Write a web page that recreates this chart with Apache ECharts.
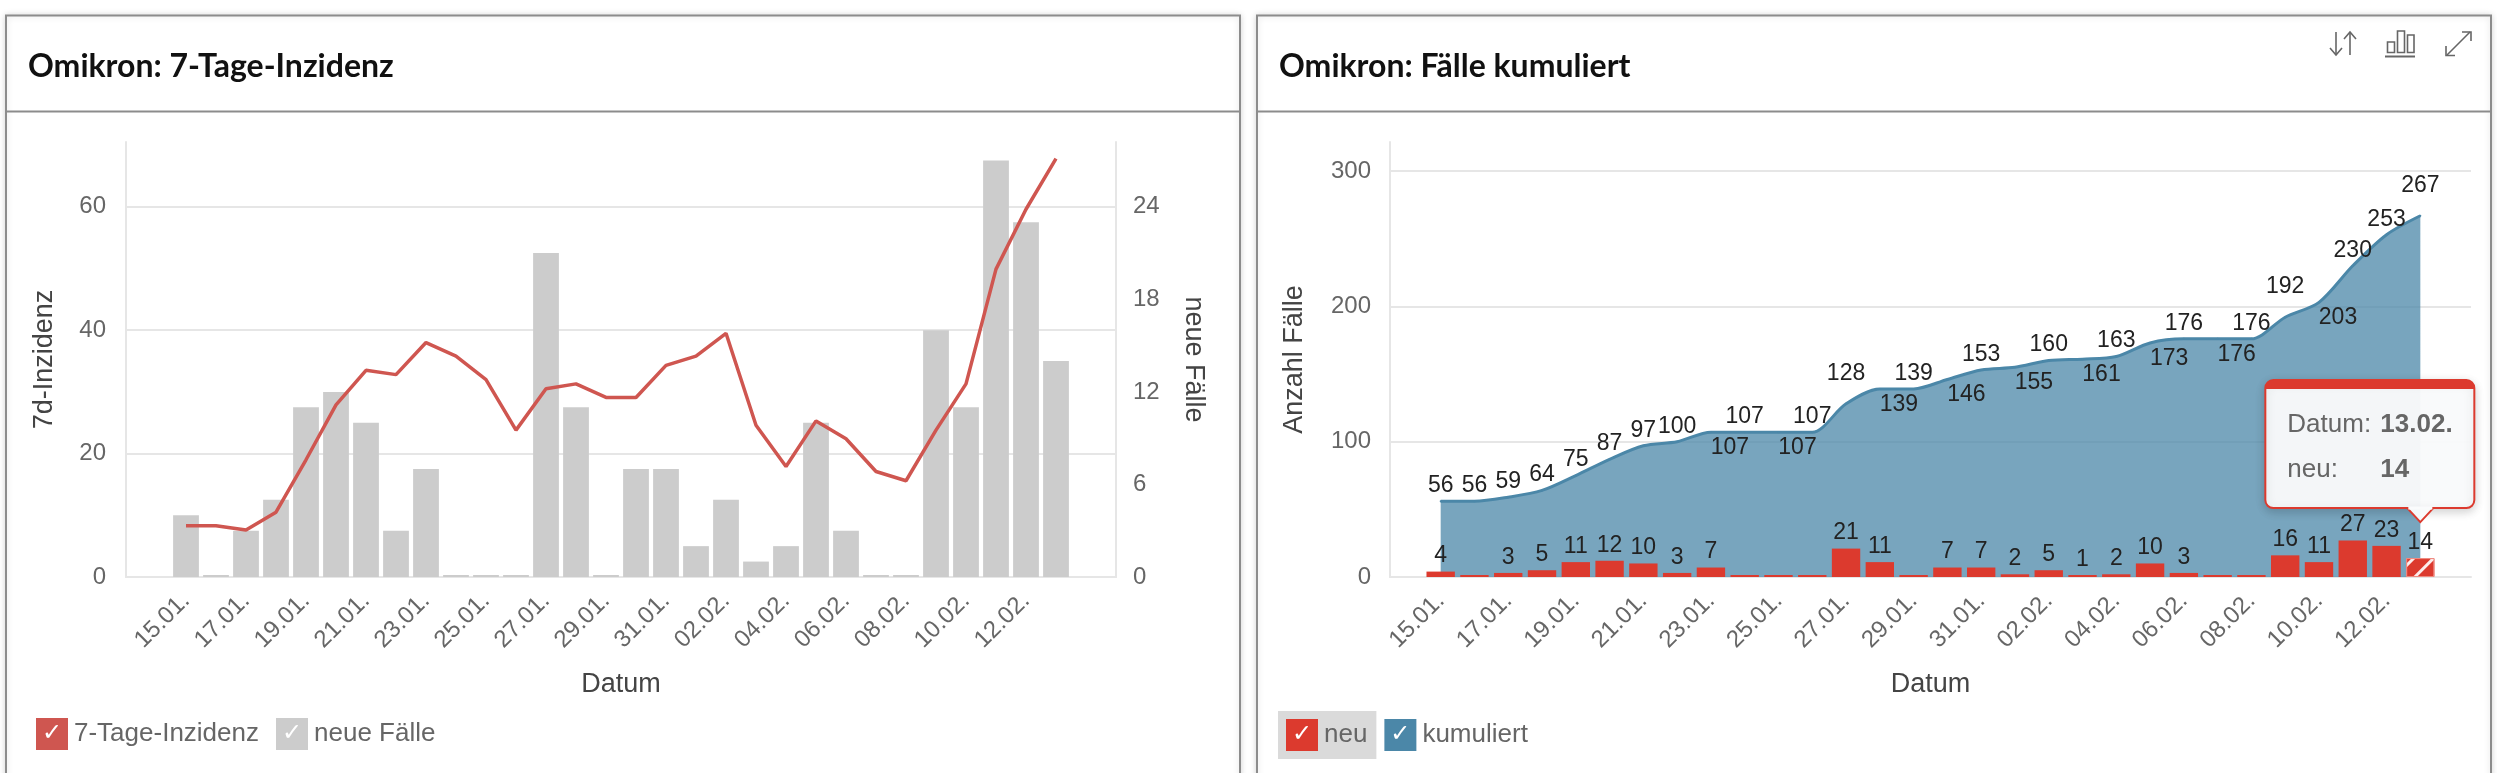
<!DOCTYPE html>
<html>
<head>
<meta charset="utf-8">
<script src="https://cdn.jsdelivr.net/npm/echarts@6/dist/echarts.min.js"></script>
<style>
html,body{margin:0;padding:0;background:#fff;}
#c{width:2497px;height:773px;}
</style>
</head>
<body>
<div id="c"></div>
<script>
// ---------- data ----------
const dates = ['15.01.','16.01.','17.01.','18.01.','19.01.','20.01.','21.01.','22.01.','23.01.','24.01.',
  '25.01.','26.01.','27.01.','28.01.','29.01.','30.01.','31.01.','01.02.','02.02.','03.02.',
  '04.02.','05.02.','06.02.','07.02.','08.02.','09.02.','10.02.','11.02.','12.02.','13.02.'];
const neueFaelle = [4,0,3,5,11,12,10,3,7,0,0,0,21,11,0,7,7,2,5,1,2,10,3,0,0,16,11,27,23,14];
const inzidenz7d = [8.3,8.3,7.6,10.5,19.0,27.9,33.5,32.8,38.0,35.8,32.0,23.8,30.5,31.3,29.1,29.1,34.3,35.8,39.5,24.6,17.9,25.3,22.4,17.1,15.6,23.8,31.3,49.9,59.6,67.8];
const kumuliert = [56,56,59,64,75,87,97,100,107,107,107,107,128,139,139,146,153,155,160,161,163,173,176,176,176,192,203,230,253,267];
const inzidenzTicks = [0,20,40,60];
const faelleTicks = [0,6,12,18,24];
const anzahlTicks = [0,100,200,300];

// ---------- helpers ----------
const FONT = 'Liberation Sans';
const padL = 2, padR = 1;
function pad(arr, before, after, fill) {
  return Array(before).fill(fill).concat(arr, Array(after).fill(fill));
}
function blanks(n, start) { const a = []; for (let i = 0; i < n; i++) a.push(' '.repeat(start + i)); return a; }
const catsL = blanks(padL, 1).concat(dates, blanks(padL, 10));
const catsR = blanks(padR, 1).concat(dates, blanks(padR, 10));
function labelInterval(p) { return (i) => i >= p && i < p + dates.length && (i - p) % 2 === 0; }

// label placement of cumulative values (style, not data)
const kumBelow = [8,10,13,15,17,19,21,23,26];
const kumHigh = [12,25,29];

const colLine = '#cf5650', colGrey = '#cccccc', colRed = '#dc3a2e', colBlue = '#4b87a8';
const axisLabelStyle = { color: '#666', fontSize: 24, fontFamily: FONT };
const nameStyle = { color: '#444', fontSize: 27, fontFamily: FONT };
const gridLine = { lineStyle: { color: '#e6e6e6', width: 2 }, showMaxLine: false };
const axisLineStyle = { show: true, lineStyle: { color: '#e6e6e6', width: 2 } };

const kumData = kumuliert.map((v, i) => {
  let lab = {};
  if (kumBelow.includes(i)) lab = { position: 'bottom', distance: 3, offset: [19, 0] };
  else if (kumHigh.includes(i)) lab = { position: 'top', distance: 18 };
  return { value: v, label: lab };
});
const neuData = neueFaelle.map((v, i) => i === neueFaelle.length - 1 ? {
  value: v,
  itemStyle: {
    borderColor: '#ef8a80', borderWidth: 1,
    decal: { symbol: 'rect', symbolSize: 1, color: 'rgba(255,255,255,0.9)', dashArrayX: [1, 0], dashArrayY: [3, 11], rotation: -Math.PI / 4 }
  }
} : v);

const boxStyle = (bg) => ({ width: 32, height: 32, lineHeight: 32, align: 'center', backgroundColor: bg, color: '#fff', fontSize: 24, fontFamily: 'DejaVu Sans' });
const legendRich = {
  bR: boxStyle(colLine), bG: boxStyle(colGrey), bN: boxStyle(colRed), bB: boxStyle(colBlue),
  s: { width: 6 },
  t: { fontSize: 26, color: '#666', fontFamily: FONT }
};
const legendKey = { '7-Tage-Inzidenz': 'bR', 'neue Fälle': 'bG', 'neu': 'bN', 'kumuliert': 'bB' };

const chart = echarts.init(document.getElementById('c'), null, { renderer: 'canvas' });

const option = {
  animation: false,
  backgroundColor: '#fff',
  title: [
    { text: 'Omikron: 7-Tage-Inzidenz', left: 28, top: 51, padding: 0,
      textStyle: { fontFamily: 'Lato', fontWeight: 'bold', fontSize: 32, lineHeight: 32, color: '#111' } },
    { text: 'Omikron: Fälle kumuliert', left: 1279, top: 51, padding: 0,
      textStyle: { fontFamily: 'Lato', fontWeight: 'bold', fontSize: 32, lineHeight: 32, color: '#111' } }
  ],
  legend: [
    { data: ['7-Tage-Inzidenz', 'neue Fälle'], left: 31, top: 718, padding: 0, itemGap: 12,
      icon: 'rect', itemWidth: 0, itemHeight: 0, selectedMode: false,
      formatter: (n) => '{' + legendKey[n] + '|✓}{s|}{t|' + n + '}',
      textStyle: { color: '#666', fontSize: 26, fontFamily: FONT, rich: legendRich } },
    { data: [
        { name: 'neu', textStyle: { backgroundColor: '#dadada', padding: [8, 9, 8, 8] } },
        { name: 'kumuliert', textStyle: { padding: [8, 0, 8, 0] } }
      ],
      left: 1273, top: 711, padding: 0, itemGap: 3,
      icon: 'rect', itemWidth: 0, itemHeight: 0, selectedMode: false,
      formatter: (n) => '{' + legendKey[n] + '|✓}{s|}{t|' + n + '}',
      textStyle: { color: '#666', fontSize: 26, fontFamily: FONT, rich: legendRich } }
  ],
  grid: [
    { left: 126, top: 142, width: 990, height: 435 },
    { left: 1390, top: 142, width: 1081, height: 435 }
  ],
  xAxis: [
    { gridIndex: 0, type: 'category', data: catsL, boundaryGap: false,
      axisLine: axisLineStyle, axisTick: { show: false },
      axisLabel: Object.assign({ rotate: 45, margin: 20, interval: labelInterval(padL) }, axisLabelStyle),
      name: 'Datum', nameLocation: 'middle', nameGap: 94, nameTextStyle: nameStyle },
    { gridIndex: 1, type: 'category', data: catsR, boundaryGap: true,
      axisLine: axisLineStyle, axisTick: { show: false },
      axisLabel: Object.assign({ rotate: 45, margin: 20, interval: labelInterval(padR) }, axisLabelStyle),
      name: 'Datum', nameLocation: 'middle', nameGap: 94, nameTextStyle: nameStyle }
  ],
  yAxis: [
    { gridIndex: 0, type: 'value', position: 'left', min: inzidenzTicks[0], max: 70.5, interval: inzidenzTicks[1] - inzidenzTicks[0],
      splitLine: gridLine, axisLine: axisLineStyle, axisTick: { show: false },
      axisLabel: Object.assign({ margin: 20, showMaxLabel: false }, axisLabelStyle),
      name: '7d-Inzidenz', nameLocation: 'middle', nameGap: 68, nameTextStyle: nameStyle },
    { gridIndex: 0, type: 'value', position: 'right', min: faelleTicks[0], max: 28.2, interval: faelleTicks[1] - faelleTicks[0],
      splitLine: { show: false }, axisLine: axisLineStyle, axisTick: { show: false },
      axisLabel: Object.assign({ margin: 17, showMaxLabel: false }, axisLabelStyle),
      name: 'neue Fälle', nameLocation: 'middle', nameGap: 64, nameRotate: -90, nameTextStyle: nameStyle },
    { gridIndex: 1, type: 'value', position: 'left', min: anzahlTicks[0], max: 321.5, interval: anzahlTicks[1] - anzahlTicks[0],
      splitLine: gridLine, axisLine: axisLineStyle, axisTick: { show: false },
      axisLabel: Object.assign({ margin: 19, showMaxLabel: false }, axisLabelStyle),
      name: 'Anzahl Fälle', nameLocation: 'middle', nameGap: 82, nameTextStyle: nameStyle }
  ],
  series: [
    { name: 'neue Fälle', type: 'bar', xAxisIndex: 0, yAxisIndex: 1,
      data: pad(neueFaelle, padL, padL, null), itemStyle: { color: colGrey },
      barCategoryGap: '14%', barMinHeight: 2, z: 2 },
    { name: '7-Tage-Inzidenz', type: 'line', xAxisIndex: 0, yAxisIndex: 0,
      data: pad(inzidenz7d, padL, padL, null), showSymbol: false, itemStyle: { color: colLine },
      lineStyle: { color: colLine, width: 3.5 }, z: 3 },
    { name: 'kumuliert', type: 'line', xAxisIndex: 1, yAxisIndex: 2,
      data: pad(kumData, padR, padR, null), smooth: 0.3,
      symbol: 'circle', symbolSize: 2, showSymbol: true, showAllSymbol: true,
      itemStyle: { color: colBlue },
      lineStyle: { color: colBlue, width: 3 },
      areaStyle: { color: colBlue, opacity: 0.75 },
      label: { show: true, position: 'top', distance: 3, fontSize: 23, color: '#222', fontFamily: FONT },
      z: 2 },
    { name: 'neu', type: 'bar', xAxisIndex: 1, yAxisIndex: 2,
      data: pad(neuData, padR, padR, null), itemStyle: { color: colRed },
      barCategoryGap: '16%', barMinHeight: 2,
      label: { show: true, position: 'top', distance: 4, fontSize: 23, color: '#222', fontFamily: FONT,
               formatter: (p) => { const v = (p.value && p.value.value !== undefined) ? p.value.value : p.value; return v ? String(v) : ''; } },
      z: 3 }
  ]
};
chart.setOption(option);

// ---------- panels, icons, tooltip ----------
const lastIdx = dates.length - 1;
const barTop = chart.convertToPixel({ xAxisIndex: 1, yAxisIndex: 2 }, [lastIdx + padR, neueFaelle[lastIdx]]);
const tipX = barTop[0], tipY = barTop[1] - 36;
const border = '#8c8c8c';
const ic = { stroke: '#666', lineWidth: 1.6, fill: null };
const tipBg = 'rgba(250,251,252,0.96)';
const TZ = 100;
const graphic = [
  { id: 'pL', type: 'rect', z: -10, shape: { x: 6, y: 15.5, width: 1234, height: 800 },
    style: { fill: '#fff', stroke: border, lineWidth: 2, shadowBlur: 6, shadowColor: 'rgba(0,0,0,0.15)' } },
  { id: 'pR', type: 'rect', z: -10, shape: { x: 1257, y: 15.5, width: 1234, height: 800 },
    style: { fill: '#fff', stroke: border, lineWidth: 2, shadowBlur: 6, shadowColor: 'rgba(0,0,0,0.15)' } },
  { id: 'sL', type: 'line', z: -9, shape: { x1: 6, y1: 111.5, x2: 1240, y2: 111.5 }, style: { stroke: border, lineWidth: 2 } },
  { id: 'sR', type: 'line', z: -9, shape: { x1: 1257, y1: 111.5, x2: 2491, y2: 111.5 }, style: { stroke: border, lineWidth: 2 } },
  // icons
  { id: 'i1', type: 'line', shape: { x1: 2336, y1: 32, x2: 2336, y2: 55 }, style: ic },
  { id: 'i2', type: 'polyline', shape: { points: [[2330, 48], [2336, 55], [2342, 48]] }, style: ic },
  { id: 'i3', type: 'line', shape: { x1: 2350, y1: 32, x2: 2350, y2: 55 }, style: ic },
  { id: 'i4', type: 'polyline', shape: { points: [[2344, 39], [2350, 32], [2356, 39]] }, style: ic },
  { id: 'i5', type: 'rect', shape: { x: 2387.5, y: 42, width: 7, height: 10.5 }, style: ic },
  { id: 'i6', type: 'rect', shape: { x: 2397.5, y: 31, width: 7, height: 21.5 }, style: ic },
  { id: 'i7', type: 'rect', shape: { x: 2407.5, y: 35, width: 6.5, height: 17.5 }, style: ic },
  { id: 'i8', type: 'line', shape: { x1: 2385, y1: 56.5, x2: 2415, y2: 56.5 }, style: { stroke: '#666', lineWidth: 2 } },
  { id: 'i9', type: 'line', shape: { x1: 2447, y1: 55, x2: 2470, y2: 32 }, style: ic },
  { id: 'i10', type: 'polyline', shape: { points: [[2462, 32], [2471, 32], [2471, 41]] }, style: ic },
  { id: 'i11', type: 'polyline', shape: { points: [[2446, 46], [2446, 55.5], [2455, 55.5]] }, style: ic },
  // tooltip
  { id: 'tip', type: 'group', x: tipX, y: tipY, z: TZ, children: [
    { type: 'rect', z: TZ, shape: { x: -155, y: -142, width: 209, height: 128, r: 8 },
      style: { fill: tipBg, stroke: colRed, lineWidth: 2, shadowBlur: 10, shadowOffsetY: 3, shadowColor: 'rgba(0,0,0,0.18)' } },
    { type: 'rect', z: TZ + 1, shape: { x: -155, y: -142, width: 209, height: 9, r: [8, 8, 0, 0] }, style: { fill: colRed } },
    { type: 'polygon', z: TZ + 1, shape: { points: [[-13, -14], [0, 0], [13, -14]] }, style: { fill: tipBg, stroke: colRed, lineWidth: 2 } },
    { type: 'line', z: TZ + 2, shape: { x1: -12, y1: -14, x2: 12, y2: -14 }, style: { stroke: 'rgb(250,251,252)', lineWidth: 3 } },
    { type: 'text', z: TZ + 3, x: -133, y: -97, style: { text: 'Datum:', fill: '#666', font: '26px "Liberation Sans"', textVerticalAlign: 'middle' } },
    { type: 'text', z: TZ + 3, x: -40, y: -97, style: { text: dates[lastIdx], fill: '#666', font: 'bold 26px "Liberation Sans"', textVerticalAlign: 'middle' } },
    { type: 'text', z: TZ + 3, x: -133, y: -52, style: { text: 'neu:', fill: '#666', font: '26px "Liberation Sans"', textVerticalAlign: 'middle' } },
    { type: 'text', z: TZ + 3, x: -40, y: -52, style: { text: String(neueFaelle[lastIdx]), fill: '#666', font: 'bold 26px "Liberation Sans"', textVerticalAlign: 'middle' } }
  ] }
];
chart.setOption({ graphic: graphic });
</script>
</body>
</html>
